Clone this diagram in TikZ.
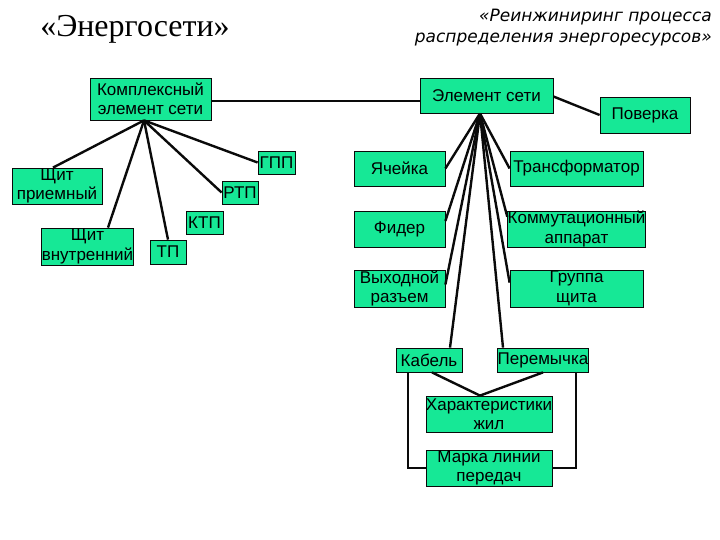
\documentclass[tikz,border=0pt]{standalone}
\usepackage{fontspec}
\setmainfont{Liberation Serif}
\setsansfont{Liberation Sans}
\newfontfamily\egital{DejaVu Sans}
\usetikzlibrary{calc,positioning}
\definecolor{EgFill}{RGB}{22,232,150}
\definecolor{EgRule}{RGB}{10,10,10}
\tikzset{
  egbox/.style={draw=EgRule, fill=EgFill, line width=0.8pt, inner sep=0pt, align=center,
    font=\sffamily\fontsize{17}{19.5}\selectfont},
  eglink/.style={draw=EgRule, line width=2.4pt},
  egtitle/.style={font=\rmfamily\fontsize{32}{36}\selectfont, inner sep=0pt},
  egsub/.style={font=\egital\itshape\fontsize{17}{21}\selectfont, inner sep=0pt, align=right}
}
\newcommand{\EgBox}[5]{%
  \node[egbox, minimum width=#3pt, minimum height=#4pt] (#1) at (#2) {#5};}

\begin{document}
\begin{tikzpicture}[x=1pt,y=-1pt]
  \useasboundingbox (0,0) rectangle (720,540);
  % titles
  \node[egtitle] (tleft) at (135,29) {«Энергосети»};
  \node[egsub, anchor=east] (tright) at (712,28) {«Реинжиниринг процесса\\распределения энергоресурсов»};
  % left group
  \EgBox{kompl}{150.5,99}{121}{42}{Комплексный\\элемент сети}
  \EgBox{shitpr}{57,186}{90}{36}{Щит\\приемный}
  \EgBox{shitvn}{87.5,246.5}{91}{37}{Щит\\внутренний}
  \EgBox{tp}{168,252}{36}{24}{ТП}
  \EgBox{ktp}{204.5,222.5}{37}{23}{КТП}
  \EgBox{rtp}{240,192.5}{36}{23}{РТП}
  \EgBox{gpp}{276.5,162.5}{37}{23}{ГПП}
  % right group
  \EgBox{elem}{486.5,95.5}{133}{35}{Элемент сети}
  \EgBox{poverka}{645,115}{90}{36}{Поверка}
  \EgBox{yach}{399.5,168.5}{91}{35}{Ячейка}
  \EgBox{trans}{576.5,168.5}{133}{35}{Трансформатор}
  \EgBox{fider}{399.5,229}{91}{36}{Фидер}
  \EgBox{komm}{576.5,229}{133}{36}{Коммутационный\\аппарат}
  \EgBox{vyh}{399.5,288.5}{91}{37}{Выходной\\разъем}
  \EgBox{gruppa}{576.5,288.5}{133}{37}{Группа\\щита}
  \EgBox{kabel}{429,360}{66}{24}{Кабель}
  \EgBox{perem}{543,360}{90}{24}{Перемычка}
  \EgBox{harakt}{489,414}{126}{36}{Характеристики\\жил}
  \EgBox{marka}{489,468}{126}{36}{Марка линии\\передач}
  % hubs
  \coordinate (khub) at ([xshift=-6.5pt]kompl.south);
  \coordinate (ehub) at ([xshift=-6.5pt]elem.south);
  % links
  \draw[eglink] ([yshift=-2pt]kompl.east) -- ([yshift=-2pt]kompl.east -| elem.west);
  \draw[eglink] ([yshift=-1pt]elem.east) -- (poverka.west);
  \foreach \sh/\dst in {-4pt/shitpr.north,20.5pt/shitvn.north,0pt/tp.north,0pt/rtp.west,0pt/gpp.west}
    \draw[eglink] (khub) -- ([xshift=\sh]\dst);
  \foreach \sh/\dst in {0pt/yach.east,0pt/trans.west,0pt/fider.10,0pt/komm.170,0pt/vyh.5,
      0pt/gruppa.175,21pt/kabel.north,-40pt/perem.north}
    \draw[eglink] (ehub) -- ([xshift=\sh]\dst);
  \draw[eglink] ([xshift=3pt]kabel.south) -- ([xshift=-9pt]harakt.north) -- (perem.south);
  \draw[eglink] ([xshift=-21pt]kabel.south) |- (marka.west);
  \draw[eglink] ([xshift=33pt]perem.south) |- (marka.east);
\end{tikzpicture}
\end{document}
